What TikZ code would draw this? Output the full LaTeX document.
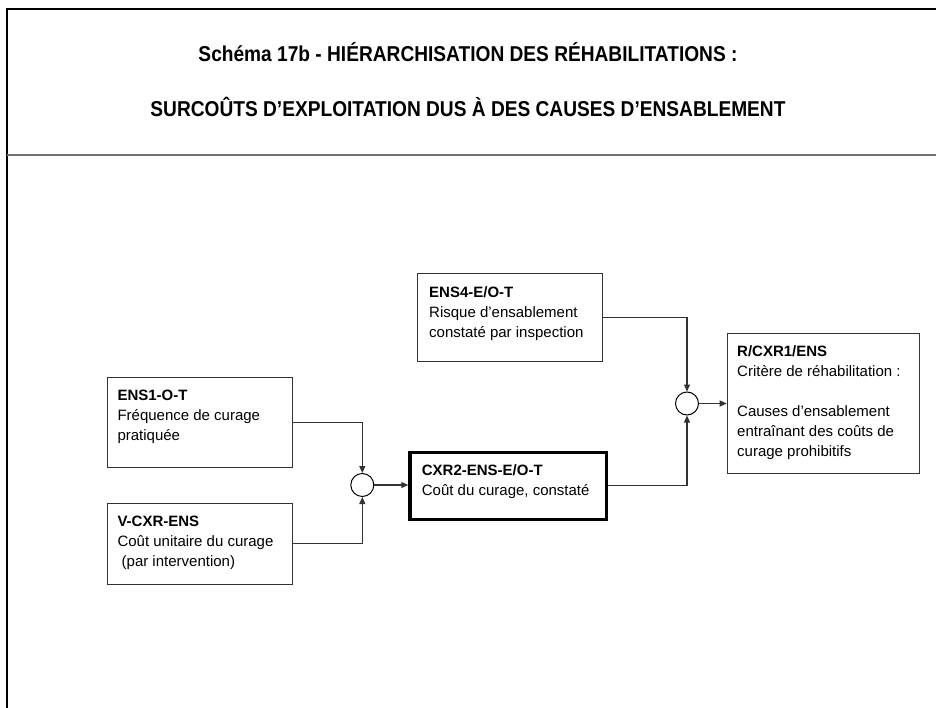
\documentclass[tikz,border=0pt]{standalone}
\usepackage{fontspec}
\setmainfont{Liberation Sans}
\usepackage{graphicx}
\usetikzlibrary{arrows.meta}
\definecolor{linegray}{gray}{0.2}
\definecolor{divgray}{gray}{0.45}
\begin{document}
\begin{tikzpicture}[x=1pt,y=-1pt,
  box/.style={draw=linegray, line width=1pt, inner sep=0pt, anchor=north west},
  thickbox/.style={box, draw=black, line width=3.4pt},
  txt/.style={anchor=north west, inner sep=0pt, align=left, font=\fontsize{15}{20}\selectfont},
  junction/.style={circle, draw=black, line width=1pt, inner sep=0pt, minimum size=23pt},
  conn/.style={draw=linegray, line width=1.1pt, -{Triangle[length=7pt,width=6pt]}},
  titletxt/.style={anchor=base, inner sep=0pt}
]
\useasboundingbox (0,0) rectangle (936,708);
% frame and divider
\draw[line width=2.2pt, black] (7,730) -- (7,9) -- (950,9);
\draw[line width=2pt, divgray] (7,155) -- (950,155);
% titles
\node[titletxt] (t1) at (468,62) {\scalebox{0.89}[1]{\bfseries\fontsize{21.5}{24}\selectfont Schéma 17b - HIÉRARCHISATION DES RÉHABILITATIONS :}};
\node[titletxt] (t2) at (468,117) {\scalebox{0.89}[1]{\bfseries\fontsize{21.5}{24}\selectfont SURCOÛTS D’EXPLOITATION DUS À DES CAUSES D’ENSABLEMENT}};
% boxes
\node[box, minimum width=185pt, minimum height=87.7pt] (ens4) at (417.3,273.3) {};
\node[box, minimum width=185pt, minimum height=90pt] (ens1) at (106.7,376.7) {};
\node[box, minimum width=185pt, minimum height=81.3pt] (vcxr) at (106.7,502.7) {};
\node[thickbox, minimum width=196.2pt, minimum height=67pt] (cxr2) at (408.3,450.5) {};
\node[box, minimum width=192.3pt, minimum height=140pt] (rcxr) at (726.7,332.7) {};
% texts
\node[txt] (ens4t) at (429,283.5) {\strut\textbf{ENS4-E/O-T}\\Risque d’ensablement\\constaté par inspection};
\node[txt] (ens1t) at (117.3,386) {\strut\textbf{ENS1-O-T}\\Fréquence de curage\\pratiquée};
\node[txt] (vcxrt) at (117.3,512) {\strut\textbf{V-CXR-ENS}\\Coût unitaire du curage\\\ (par intervention)};
\node[txt] (cxr2t) at (421.7,461) {\strut\textbf{CXR2-ENS-E/O-T}\\Coût du curage, constaté};
\node[txt] (rcxrt) at (737,342) {\strut\textbf{R/CXR1/ENS}\\Critère de réhabilitation :\\[20pt]Causes d’ensablement\\entraînant des coûts de\\curage prohibitifs};
% junctions
\node[junction] (c1) at (362.3,485) {};
\node[junction] (c2) at (687,403.5) {};
% connectors
\draw[conn] (ens1.east) -| (c1.north);
\draw[conn] (vcxr.east) -| (c1.south);
\draw[conn] (c1.east) -- (c1.east -| cxr2.west);
\draw[conn] (ens4.east) -| (c2.north);
\draw[conn] (cxr2.east) -| (c2.south);
\draw[conn] (c2.east) -- (c2.east -| rcxr.west);
\end{tikzpicture}
\end{document}
